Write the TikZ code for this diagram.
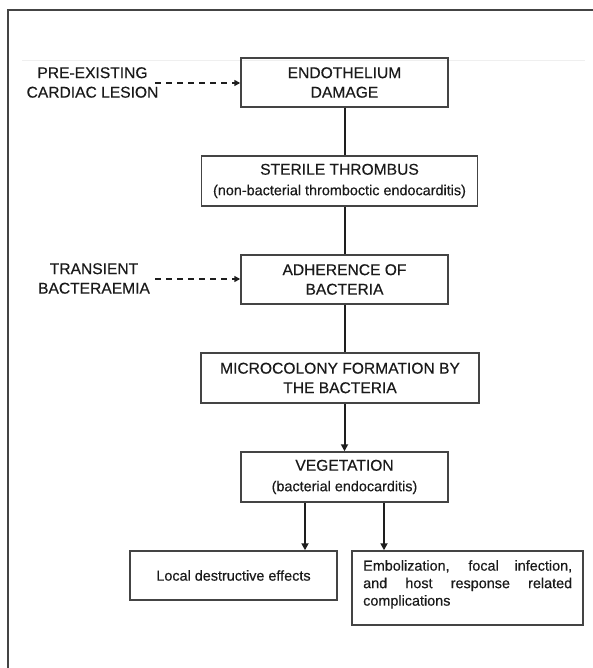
\documentclass[tikz,border=0pt]{standalone}
\usepackage{fontspec}
\setmainfont{Liberation Sans}[FakeBold=0.35]
\usetikzlibrary{arrows.meta}
\definecolor{linegray}{HTML}{444444}
\definecolor{conncol}{HTML}{1E1E1E}
\definecolor{textcol}{HTML}{1A1A1A}
\definecolor{faint}{HTML}{EFEFEF}
\newcommand\cfcaps{\fontsize{15.6}{19.5}\selectfont}
\newcommand\cfsmall{\fontsize{14.4}{17.5}\selectfont}
\begin{document}
\begin{tikzpicture}[x=1pt,y=-1pt,
  flowbox/.style={draw=linegray, line width=1.5pt, inner sep=0pt, align=center, font=\cfcaps, text=textcol},
  sidelabel/.style={inner sep=0pt, align=center, font=\cfcaps, text=textcol},
  conn/.style={draw=conncol, line width=2pt},
  arrowconn/.style={conn, -{Triangle[length=7pt,width=7pt]}},
  dashconn/.style={conn, line width=1.8pt, dash pattern=on 6pt off 5pt, -{Triangle[length=6pt,width=6pt]}}]
\useasboundingbox (0,0) rectangle (593,668);
\fill[white] (0,0) rectangle (593,668);
% partial frame
\draw[linegray, line width=1.5pt] (8,668) -- (8,10) -- (593,10);
\draw[faint, line width=1pt] (22,61) -- (585,61);
% boxes
\node[flowbox, minimum width=207pt, minimum height=49pt] (endo) at (344.5,82.5) {ENDOTHELIUM\\DAMAGE};
\node[flowbox, minimum width=276pt, minimum height=50pt] (sterile) at (339.5,181) {STERILE THROMBUS\\[1pt]{\cfsmall (non-bacterial thromboctic endocarditis)}};
\node[flowbox, minimum width=207pt, minimum height=49pt] (adh) at (344.5,279.5) {ADHERENCE OF\\BACTERIA};
\node[flowbox, minimum width=278pt, minimum height=50pt] (micro) at (340,378) {MICROCOLONY FORMATION BY\\THE BACTERIA};
\node[flowbox, minimum width=207pt, minimum height=50pt] (veg) at (344.5,477) {VEGETATION\\[1pt]{\cfsmall (bacterial endocarditis)}};
\node[flowbox, font=\cfsmall, minimum width=207pt, minimum height=49pt] (local) at (233.5,575.5) {Local destructive effects};
\node[flowbox, minimum width=231pt, minimum height=74pt] (comp) at (467.5,588) {};
\node[anchor=north west, inner sep=0pt, text width=209pt, align=justify, font=\cfsmall, text=textcol] (comptext) at (363,560)
  {\hyphenpenalty=10000 Embolization, focal infection,\linebreak and host response related\linebreak complications};
% side labels
\node[sidelabel] (pre) at (92.5,82.5) {PRE-EXISTING\\CARDIAC LESION};
\node[sidelabel] (trans) at (94,278.5) {TRANSIENT\\BACTERAEMIA};
\coordinate (preend) at (155,83);
\coordinate (transend) at (155,279);
% connectors
\draw[dashconn] (preend) -- (preend -| endo.west);
\draw[dashconn] (transend) -- (transend -| adh.west);
\draw[conn] (endo.south) -- (endo.south |- sterile.north);
\draw[conn] (endo.south |- sterile.south) -- (adh.north);
\draw[conn] (adh.south) -- (adh.south |- micro.north);
\draw[arrowconn] (adh.south |- micro.south) -- (veg.north);
\draw[arrowconn] ([xshift=-39.5pt]veg.south) -- ([xshift=-39.5pt]veg.south |- local.north);
\draw[arrowconn] ([xshift=39.5pt]veg.south) -- ([xshift=39.5pt]veg.south |- comp.north);
\end{tikzpicture}
\end{document}
